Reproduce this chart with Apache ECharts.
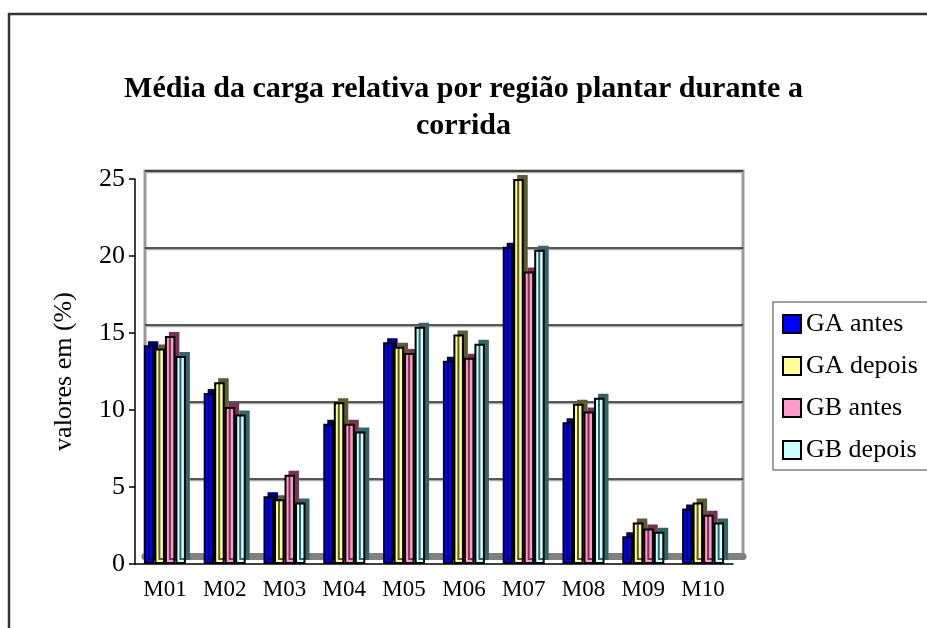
<!DOCTYPE html>
<html>
<head>
<meta charset="utf-8">
<title>Média da carga relativa</title>
<script src="https://cdn.jsdelivr.net/npm/echarts@6/dist/echarts.min.js"></script>
<style>
  html, body { margin: 0; padding: 0; background: #fff; }
  #chart { width: 927px; height: 628px; }
</style>
</head>
<body>
<div id="chart"></div>
<script>
const categories = ['M01', 'M02', 'M03', 'M04', 'M05', 'M06', 'M07', 'M08', 'M09', 'M10'];
const gaAntes = [14.2, 11.1, 4.4, 9.1, 14.4, 13.2, 20.6, 9.2, 1.8, 3.6];
const gaDepois = [14.0, 11.8, 4.2, 10.5, 14.1, 14.9, 25.0, 10.4, 2.7, 4.0];
const gbAntes = [14.8, 10.2, 5.8, 9.1, 13.7, 13.4, 19.0, 9.9, 2.3, 3.2];
const gbDepois = [13.5, 9.7, 4.0, 8.6, 15.4, 14.3, 20.4, 10.8, 2.1, 2.7];
const yTicks = { min: 0, max: 25, interval: 5 };

const font = 'Liberation Serif, Times New Roman, serif';

// face colour + darker side colour (fake 3d via shadow)
function barSeries(name, data, color, side) {
  return {
    name: name,
    type: 'bar',
    xAxisIndex: 1,
    yAxisIndex: 1,
    data: data,
    barWidth: 10.5,
    barGap: '0%',
    itemStyle: {
      color: color,
      borderColor: '#000',
      borderWidth: 2,
      shadowColor: side,
      shadowBlur: 0,
      shadowOffsetX: 4,
      shadowOffsetY: -4
    }
  }
}

const myChart = echarts.init(document.getElementById('chart'));
myChart.setOption({
  backgroundColor: '#fff',
  animation: false,
  title: {
    text: 'Média da carga relativa por região plantar durante a\ncorrida',
    left: 'center',
    top: 66,
    textStyle: {
      fontFamily: font,
      fontWeight: 'bold',
      fontSize: 30,
      lineHeight: 37,
      color: '#000'
    }
  },
  legend: {
    orient: 'vertical',
    left: 773,
    top: 302,
    padding: [9, 40, 7, 9],
    itemWidth: 18,
    itemHeight: 18,
    itemGap: 16,
    itemTextGap: 5,
    borderColor: '#808080',
    borderWidth: 1.5,
    icon: 'rect',
    itemStyle: {
      borderColor: '#000',
      borderWidth: 2,
      shadowColor: 'transparent',
      shadowOffsetX: 0,
      shadowOffsetY: 0
    },
    textStyle: { fontFamily: font, fontSize: 26, color: '#000' },
    data: ['GA antes', 'GA depois', 'GB antes', 'GB depois']
  },
  grid: [
    // back wall
    { left: 145, top: 171, width: 598, height: 385, show: true, borderColor: '#999', borderWidth: 3 },
    // front plane
    { left: 135, top: 179, width: 598, height: 385 }
  ],
  xAxis: [
    {
      gridIndex: 0,
      type: 'category',
      data: categories,
      offset: 3,
      axisLine: { lineStyle: { color: '#808080', width: 7 } },
      axisTick: { show: false },
      axisLabel: { show: false }
    },
    {
      gridIndex: 1,
      type: 'category',
      data: categories,
      axisLine: { lineStyle: { color: '#000', width: 1.5 } },
      axisTick: { length: 7, lineStyle: { color: '#000', width: 1.5 } },
      axisLabel: { fontFamily: font, fontSize: 23, color: '#000', margin: 14 }
    }
  ],
  yAxis: [
    {
      gridIndex: 0,
      type: 'value',
      min: yTicks.min,
      max: yTicks.max,
      interval: yTicks.interval,
      axisLine: { show: false },
      axisTick: { show: false },
      axisLabel: { show: false },
      splitLine: {
        lineStyle: { color: '#222', width: 1.5, shadowColor: '#aaa', shadowOffsetY: 1.5, shadowBlur: 0 }
      }
    },
    {
      gridIndex: 1,
      type: 'value',
      min: yTicks.min,
      max: yTicks.max,
      interval: yTicks.interval,
      name: 'valores em (%)',
      nameLocation: 'middle',
      nameRotate: 90,
      nameGap: 58,
      nameTextStyle: { fontFamily: font, fontSize: 26, color: '#000' },
      axisLine: { show: true, lineStyle: { color: '#000', width: 1.5 } },
      axisTick: { show: true, length: 6, lineStyle: { color: '#000', width: 1.5 } },
      axisLabel: { fontFamily: font, fontSize: 26, color: '#000', margin: 10 },
      splitLine: { show: false }
    }
  ],
  graphic: [
    {
      type: 'rect',
      shape: { x: 9, y: 14, width: 960, height: 660 },
      style: { fill: 'none', stroke: '#333', lineWidth: 2.5 },
      silent: true,
      z: 100
    }
  ],
  series: [
    barSeries('GA antes', gaAntes, '#0000ff', '#00006e'),
    barSeries('GA depois', gaDepois, '#ffff99', '#5c5c30'),
    barSeries('GB antes', gbAntes, '#ff99cc', '#7a3355'),
    barSeries('GB depois', gbDepois, '#ccffff', '#336666')
  ]
});
window.addEventListener('resize', () => {
  myChart.resize()
});
</script>
</body>
</html>
